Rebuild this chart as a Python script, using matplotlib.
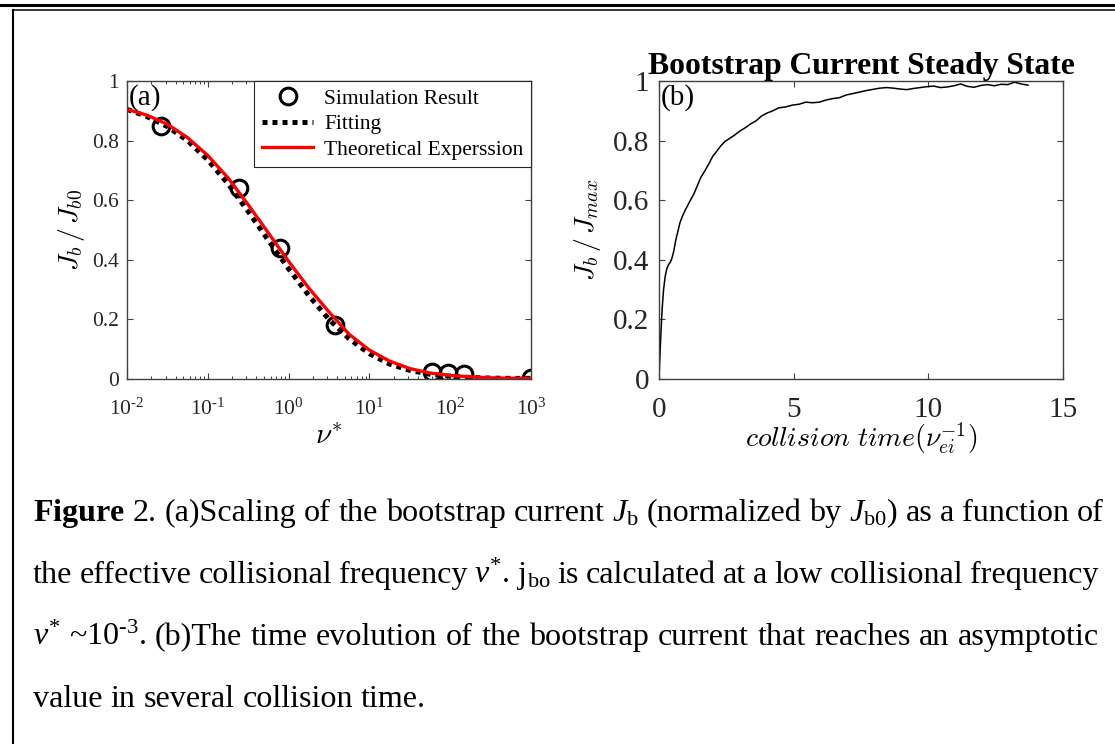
import numpy as np
import matplotlib
matplotlib.use('Agg')
import matplotlib.pyplot as plt
from matplotlib.lines import Line2D
from matplotlib.ticker import FixedLocator, FixedFormatter, NullFormatter

plt.rcParams.update({
    'font.family': 'Liberation Serif',
    'mathtext.fontset': 'custom',
    'mathtext.rm': 'Liberation Serif',
    'mathtext.it': 'Liberation Serif:italic',
    'mathtext.bf': 'Liberation Serif:bold',
    'xtick.direction': 'in',
    'ytick.direction': 'in',
    'xtick.top': True,
    'ytick.right': True,
    'axes.edgecolor': '0.25',
    'xtick.color': '0.25',
    'ytick.color': '0.25',
    'xtick.labelcolor': '0.15',
    'ytick.labelcolor': '0.15',
    'axes.linewidth': 1.0,
})

# (a) scaling of J_b with collisionality
nu_sim = [0.026, 0.24, 0.78, 3.8, 60, 95, 150, 1000]
jb_sim = [0.85, 0.64, 0.44, 0.18, 0.025, 0.02, 0.018, 0.003]

nu_curve = [0.01, 0.0178, 0.0316, 0.0562, 0.1, 0.178, 0.316, 0.562, 1.0, 1.78, 3.16,
            5.62, 10, 17.8, 31.6, 56.2, 100, 178, 316, 562, 1000]
jb_fit = [0.905, 0.88, 0.847, 0.80, 0.735, 0.655, 0.562, 0.465, 0.37, 0.28, 0.20,
          0.135, 0.085, 0.05, 0.029, 0.016, 0.009, 0.005, 0.003, 0.002, 0.002]
jb_theory = [0.905, 0.885, 0.855, 0.81, 0.75, 0.675, 0.585, 0.49, 0.395, 0.305, 0.225,
             0.15, 0.097, 0.06, 0.035, 0.02, 0.012, 0.007, 0.004, 0.0025, 0.002]

# (b) time evolution, normalised to the final value
t_b = [0, 0.04, 0.08, 0.12, 0.17, 0.23, 0.29, 0.35, 0.42, 0.48, 0.55, 0.62, 0.7, 0.78,
       0.88, 0.98, 1.08, 1.18, 1.3, 1.42, 1.55, 1.7, 1.85, 2.0, 2.15, 2.3, 2.45, 2.6,
       2.8, 3.0, 3.2, 3.4, 3.6, 3.8, 4.0, 4.2, 4.45, 4.7, 4.95, 5.2, 5.45, 5.7, 5.95,
       6.2, 6.45, 6.7, 6.95, 7.2, 7.45, 7.7, 7.95, 8.2, 8.45, 8.7, 8.95, 9.2, 9.45,
       9.7, 9.95, 10.2, 10.45, 10.7, 10.95, 11.2, 11.45, 11.7, 11.95, 12.2, 12.45,
       12.7, 12.95, 13.2, 13.45, 13.7]
jb_b = [0, 0.09, 0.17, 0.24, 0.30, 0.345, 0.37, 0.383, 0.392, 0.405, 0.43, 0.465,
        0.495, 0.525, 0.548, 0.568, 0.585, 0.602, 0.622, 0.648, 0.676, 0.698, 0.722,
        0.748, 0.765, 0.783, 0.797, 0.806, 0.818, 0.832, 0.843, 0.856, 0.866, 0.882,
        0.892, 0.899, 0.910, 0.913, 0.919, 0.922, 0.929, 0.927, 0.929, 0.936, 0.941,
        0.944, 0.953, 0.958, 0.963, 0.968, 0.972, 0.976, 0.978, 0.976, 0.973, 0.971,
        0.975, 0.978, 0.981, 0.983, 0.978, 0.980, 0.984, 0.990, 0.982, 0.979, 0.985,
        0.988, 0.984, 0.989, 0.988, 0.996, 0.990, 0.986]

ytick_vals = [0, 0.2, 0.4, 0.6, 0.8, 1.0]
ytick_text = ['0', '0.2', '0.4', '0.6', '0.8', '1']
xa_ticks = [1e-2, 1e-1, 1e0, 1e1, 1e2, 1e3]
xa_text = ['$\\mathdefault{10^{\u20102}}$', '$\\mathdefault{10^{\u20101}}$', r'$\mathdefault{10^{0}}$',
           r'$\mathdefault{10^{1}}$', r'$\mathdefault{10^{2}}$', r'$\mathdefault{10^{3}}$']
xb_ticks = [0, 5, 10, 15]
xb_text = ['0', '5', '10', '15']

caption = [
    [r'$\mathbf{Figure}$', '2.', '(a)Scaling', 'of', 'the', 'bootstrap', 'current',
     r'$J_\mathrm{b}$', '(normalized', 'by', r'$J_\mathrm{b0}$)', 'as', 'a', 'function', 'of'],
    ['the', 'effective', 'collisional', 'frequency', r'$v^{*}$.', r'$\mathrm{j}_\mathrm{bo}$',
     'is', 'calculated', 'at', 'a', 'low', 'collisional', 'frequency'],
    [r'$v^{*}$', '~$10^{\u20103}$.', '(b)The', 'time', 'evolution', 'of', 'the',
     'bootstrap', 'current', 'that', 'reaches', 'an', 'asymptotic'],
    ['value', 'in', 'several', 'collision', 'time.'],
]

W, H = 1115, 744
fig = plt.figure(figsize=(W / 100, H / 100), dpi=100)

ax1 = fig.add_axes([127 / W, 1 - 379 / H, 404 / W, 298 / H])
ax2 = fig.add_axes([659 / W, 1 - 379 / H, 404 / W, 298 / H])

# ---- panel (a)
ax1.plot(nu_sim, jb_sim, 'o', ms=12, mfc='none', mec='k', mew=2.2, label='Simulation Result')
ax1.plot(nu_curve, jb_fit, color='k', lw=3.6, ls=(0, (1, 1)), dash_capstyle='butt', label='Fitting')
ax1.plot(nu_curve, jb_theory, color='#ff0000', lw=2.4, label='Theoretical Experssion')
ax1.set_xscale('log')
ax1.set_xlim(1e-2, 1e3)
ax1.set_ylim(0, 1)
ax1.xaxis.set_major_locator(FixedLocator(xa_ticks))
ax1.xaxis.set_major_formatter(FixedFormatter(xa_text))
ax1.xaxis.set_minor_formatter(NullFormatter())
ax1.yaxis.set_major_locator(FixedLocator(ytick_vals))
ax1.yaxis.set_major_formatter(FixedFormatter(ytick_text))
ax1.tick_params(which='major', length=4, width=0.8, labelsize=15.5, pad=6)
ax1.tick_params(axis='x', which='major', pad=14)
ax1.tick_params(which='minor', length=2.2, width=0.7)
ax1.set_ylabel(r'$J_b\,/\,J_{b0}$', fontsize=20, math_fontfamily='cm')
ax1.yaxis.set_label_coords(-0.1, 0.5)
ax1.set_xlabel(r'$\nu^{*}$', fontsize=21, math_fontfamily='cm', va='center')
ax1.xaxis.set_label_coords(0.5, -0.195)
ax1.text(0.004, 0.99, '(a)', transform=ax1.transAxes, ha='left', va='top', fontsize=21)
leg = ax1.legend(loc='upper right', bbox_to_anchor=(1, 1), borderaxespad=0, fontsize=15.5,
                 fancybox=False, framealpha=1, edgecolor='0.15', handlelength=2.4,
                 handletextpad=0.5, labelspacing=0.25, borderpad=0.35)
leg.get_frame().set_linewidth(0.8)

# ---- panel (b)
ax2.plot(t_b, jb_b, color='k', lw=1.1)
ax2.set_xlim(0, 15)
ax2.set_ylim(0, 1)
ax2.xaxis.set_major_locator(FixedLocator(xb_ticks))
ax2.xaxis.set_major_formatter(FixedFormatter(xb_text))
ax2.yaxis.set_major_locator(FixedLocator(ytick_vals))
ax2.yaxis.set_major_formatter(FixedFormatter(ytick_text))
ax2.tick_params(which='major', length=4, width=0.8, labelsize=21, pad=7)
ax2.tick_params(axis='x', which='major', pad=13)
ax2.set_ylabel(r'$J_b\,/\,J_{max}$', fontsize=20, math_fontfamily='cm')
ax2.yaxis.set_label_coords(-0.138, 0.5)
ax2.set_xlabel(r'$collision\ time(\nu_{ei}^{-1})$', fontsize=20, math_fontfamily='cm', va='center')
ax2.xaxis.set_label_coords(0.5, -0.2)
ax2.set_title('Bootstrap Current Steady State', fontsize=22.8, fontweight='bold', pad=5)
ax2.text(0.004, 0.99, '(b)', transform=ax2.transAxes, ha='left', va='top', fontsize=21)

# ---- page frame around the figure
fig.add_artist(Line2D([0, 1], [1 - 5 / H, 1 - 5 / H], transform=fig.transFigure, color='k', lw=2.2))
fig.add_artist(Line2D([13 / W, 1], [1 - 10 / H, 1 - 10 / H], transform=fig.transFigure, color='k', lw=1.1))
fig.add_artist(Line2D([13 / W, 13 / W], [0, 1 - 10 / H], transform=fig.transFigure, color='k', lw=1.5))

# ---- justified caption
renderer = fig.canvas.get_renderer()
cap_size = 23.1
x_left = 33
x_right = [1104, 1099, 1099]
baselines = [521, 583, 645, 707]
for i, (words, yb) in enumerate(zip(caption, baselines)):
    texts = [fig.text(0, 1 - yb / H, w, fontsize=cap_size, va='baseline', ha='left', color='k')
             for w in words]
    widths = [t.get_window_extent(renderer).width for t in texts]
    if i < len(caption) - 1:
        gap = (x_right[i] - x_left - sum(widths)) / (len(words) - 1)
    else:
        gap = 0.25 * cap_size * 100 / 72
    x = x_left
    for t, w in zip(texts, widths):
        t.set_x(x / W)
        x += w + gap

fig.savefig('out.png', dpi=100)
